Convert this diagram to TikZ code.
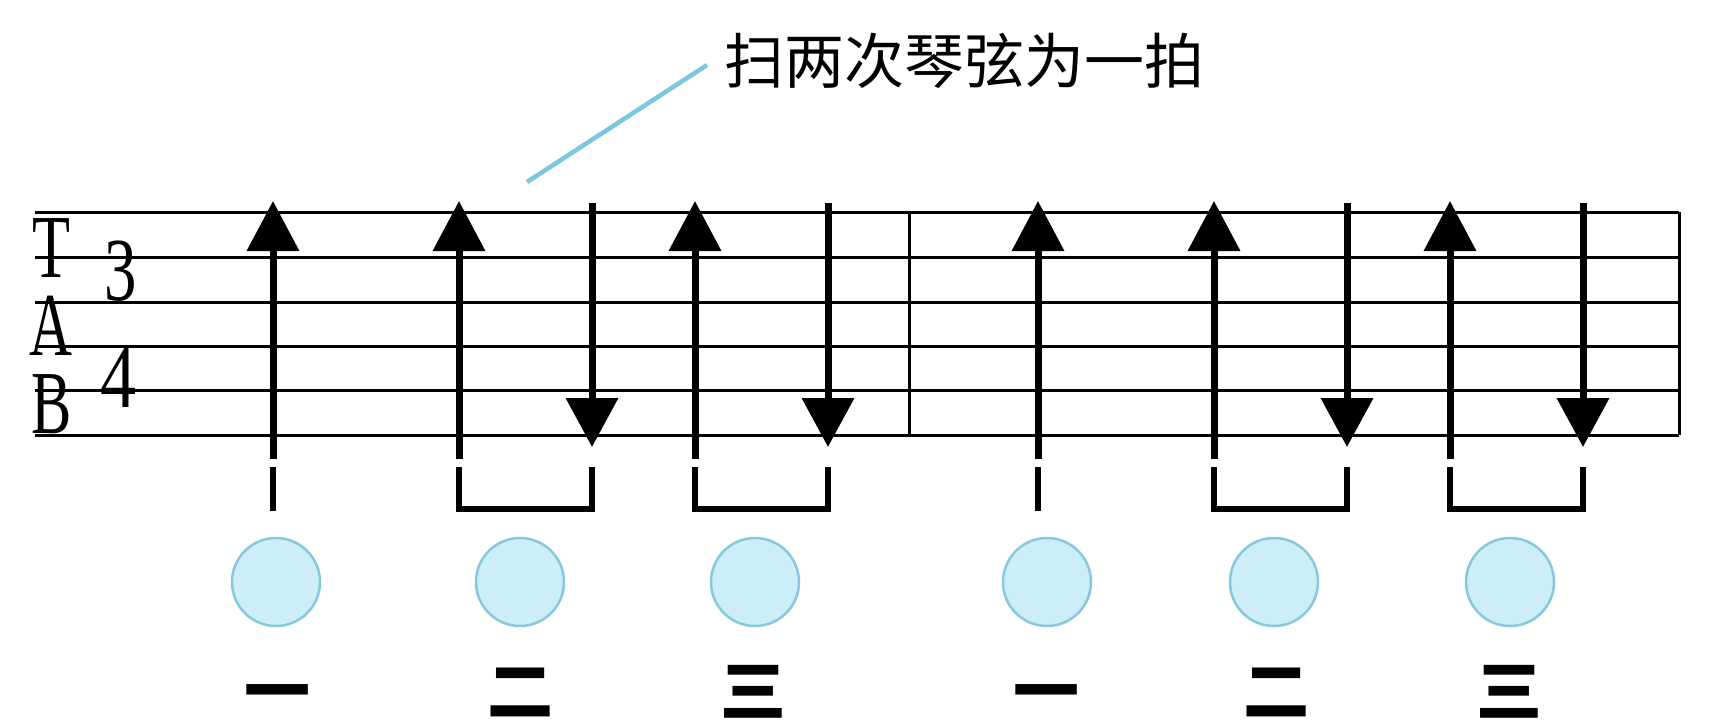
\documentclass[tikz,border=0pt]{standalone}
\usepackage{fontspec}
\usepackage{graphicx}
\newfontfamily\cjk{Noto Sans CJK SC}
\newfontfamily\tabserif{Liberation Serif}
\usetikzlibrary{arrows.meta}
\definecolor{leader}{HTML}{7CC6E0}
\definecolor{circfill}{HTML}{CDEEF9}
\definecolor{circline}{HTML}{86C8DE}
\tikzset{
  staffline/.style={line width=3pt, draw=black},
  barline/.style={line width=3pt, draw=black},
  upstroke/.style={line width=7pt, draw=black, -{Triangle[width=51pt,length=50pt]}},
  downstroke/.style={line width=7pt, draw=black, -{Triangle[width=51pt,length=49pt]}},
  beatmark/.style={line width=6.5pt, draw=black},
  beatbracket/.style={line width=6pt, draw=black, line join=miter},
  beatdot/.style={circle, minimum size=88pt, inner sep=0pt, fill=circfill, draw=circline, line width=2.5pt},
  numlabel/.style={anchor=base, inner sep=0pt, font=\cjk\bfseries\fontsize{66}{66}\selectfont},
  tablabel/.style={anchor=base, inner sep=0pt, font=\tabserif\fontsize{90}{90}\selectfont},
  titletext/.style={anchor=base west, inner sep=0pt, font=\cjk\fontsize{60}{60}\selectfont},
  leaderline/.style={line width=4.5pt, draw=leader}
}
\begin{document}
\begin{tikzpicture}[x=1pt,y=-1pt]
\useasboundingbox (0,0) rectangle (1714,726);
\fill[white] (0,0) rectangle (1714,726);
% staff lines
\foreach \i/\y in {1/212,2/257,3/302,4/346,5/390,6/435} {
  \coordinate (sl\i) at (35,\y);
  \coordinate (sr\i) at (1679,\y);
  \draw[staffline] (sl\i) -- (sr\i);
}
\coordinate (bart) at (909,212);
\coordinate (barb) at (909,435);
\draw[barline] (bart) -- (barb);
\draw[barline] (sr1) -- (sr6);
% TAB clef and time signature
\node[tablabel] (tT) at (51,277) {\scalebox{0.69}[1]{T}};
\node[tablabel] (tA) at (51,355) {\scalebox{0.66}[1]{A}};
\node[tablabel] (tB) at (52,433) {\scalebox{0.67}[1]{B}};
\node[tablabel] (ts3) at (121,300) {\scalebox{0.72}[1]{3}};
\node[tablabel] (ts4) at (118,407) {\scalebox{0.8}[1]{4}};
% up strokes
\foreach \n/\x in {ua/273,ub/459,uc/695,ud/1038,ue/1214,uf/1450} {
  \coordinate (\n0) at (\x,459);
  \coordinate (\n1) at (\x,201);
  \coordinate (\n2) at (\x,467);
  \coordinate (\n3) at (\x,511);
  \draw[upstroke] (\n0) -- (\n1);
}
% down strokes
\foreach \n/\x in {da/592,db/828,dc/1347,dd/1583} {
  \coordinate (\n0) at (\x,203);
  \coordinate (\n1) at (\x,447);
  \coordinate (\n2) at (\x,467);
  \coordinate (\n3) at (\x,509);
  \draw[downstroke] (\n0) -- (\n1);
}
% beat marks
\draw[beatmark] (ua2) -- (ua3);
\draw[beatmark] (ud2) -- (ud3);
\foreach \u/\d in {ub/da,uc/db,ue/dc,uf/dd} {
  \draw[beatbracket] (\u2) -- (\u2 |- \d3) -- (\d3) -- (\d2);
}
% circles
\foreach \k/\x in {1/276,2/520,3/755,4/1047,5/1274,6/1510} {
  \node[beatdot] (dot\k) at (\x,582) {};
}
% numbers
\node[numlabel] (n1) at (277,715) {一};
\node[numlabel] (n2) at (520,715) {二};
\node[numlabel] (n3) at (753,715) {三};
\node[numlabel] (n4) at (1046,715) {一};
\node[numlabel] (n5) at (1276,715) {二};
\node[numlabel] (n6) at (1509,715) {三};
% title and leader
\node[titletext] (title) at (724,83) {扫两次琴弦为一拍};
\coordinate (leadlow) at (527,182);
\coordinate (leadhigh) at (707,65);
\draw[leaderline] (leadlow) -- (leadhigh);
\end{tikzpicture}
\end{document}
